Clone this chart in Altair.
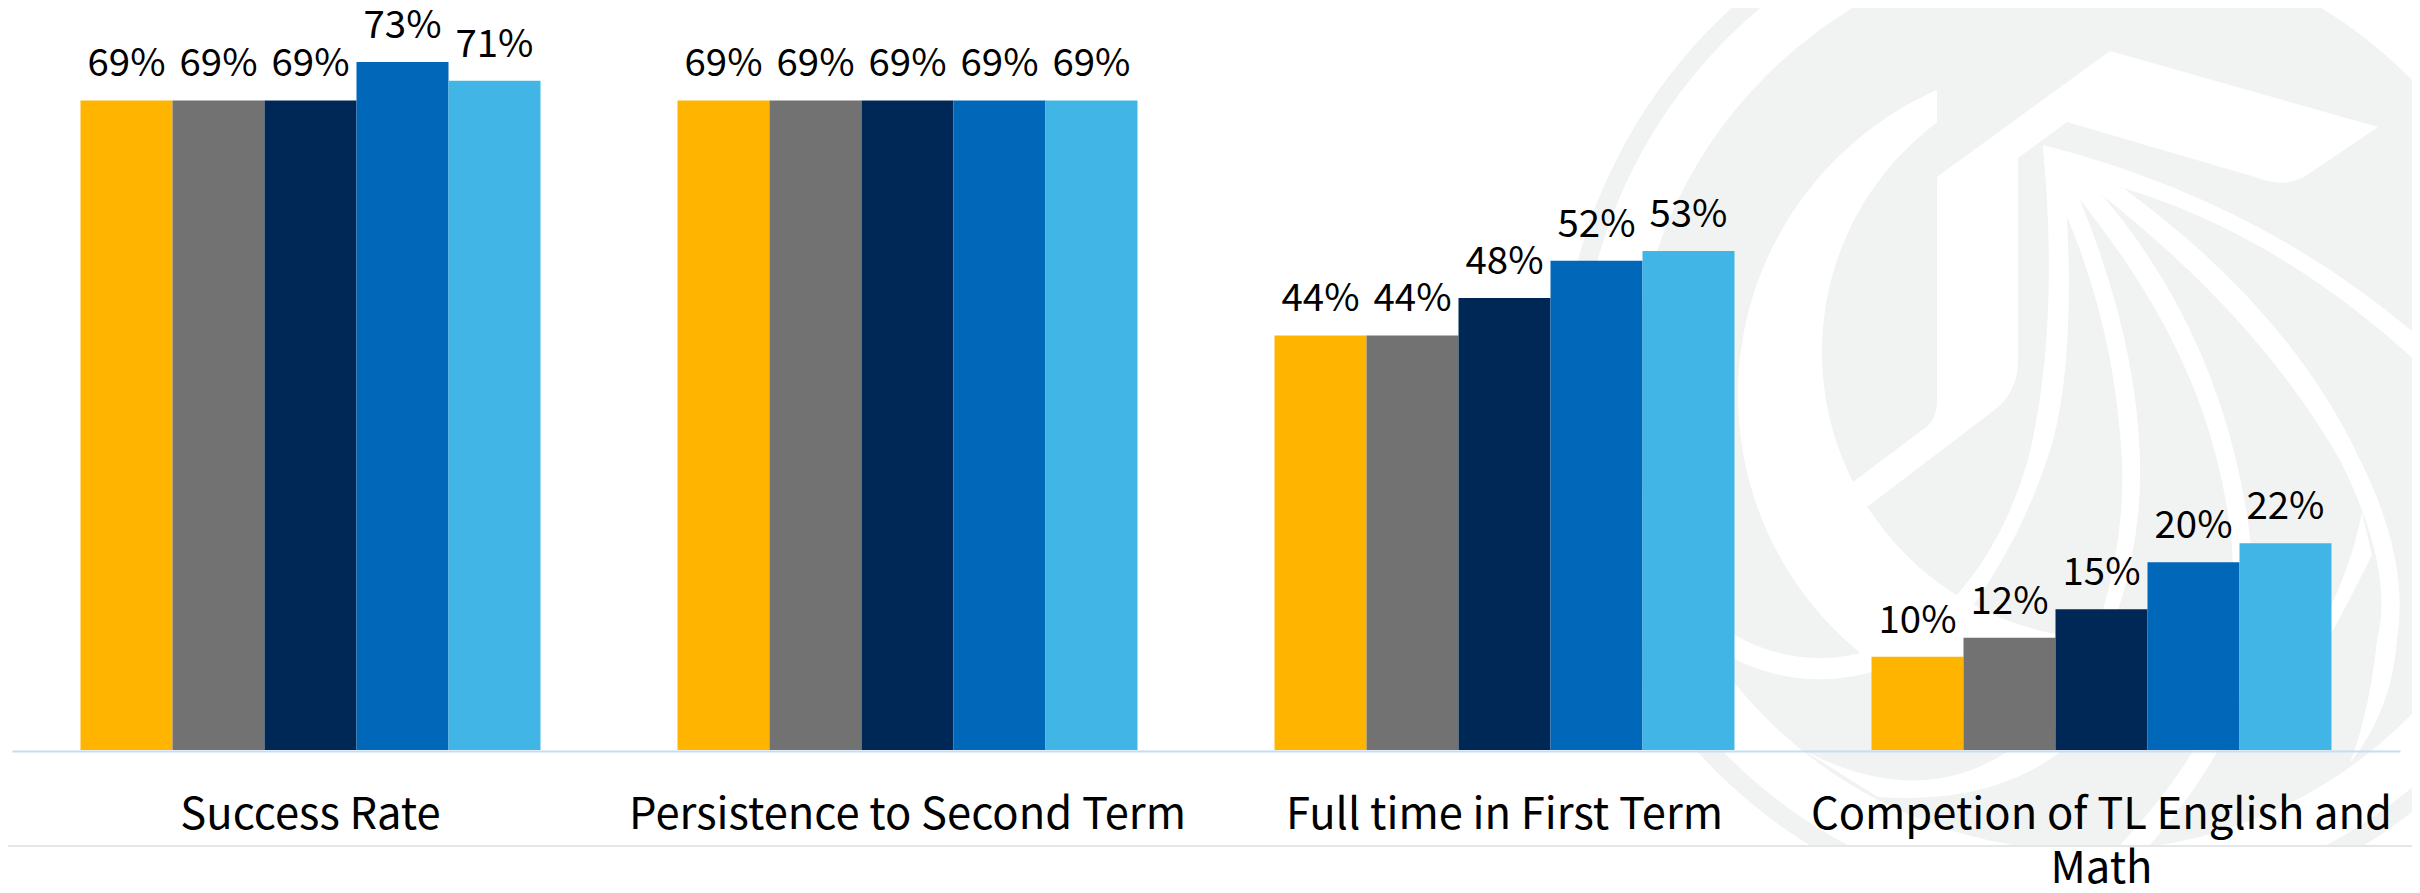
import altair as alt
import pandas as pd

categories = ["Success Rate", "Persistence to Second Term", "Full time in First Term", "Competion of TL English and Math"]
series = ["S1", "S2", "S3", "S4", "S5"]
colors = ["#FFB500", "#727272", "#002857", "#0067B9", "#41B6E6"]
values = {
    "Success Rate": [69.1, 69.1, 69.1, 73.2, 71.2],
    "Persistence to Second Term": [69.1, 69.1, 69.1, 69.1, 69.1],
    "Full time in First Term": [44.1, 44.1, 48.1, 52.05, 53.1],
    "Competion of TL English and Math": [9.93, 11.95, 14.97, 19.97, 21.99],
}
labels = {
    "Success Rate": ["69%", "69%", "69%", "73%", "71%"],
    "Persistence to Second Term": ["69%", "69%", "69%", "69%", "69%"],
    "Full time in First Term": ["44%", "44%", "48%", "52%", "53%"],
    "Competion of TL English and Math": ["10%", "12%", "15%", "20%", "22%"],
}

FONT = "Noto Sans CJK SC"
GREY = "#f1f3f2"
WHITE = "#ffffff"

rows = []
for c in categories:
    for s, v, l in zip(series, values[c], labels[c]):
        rows.append({"category": c, "series": s, "value": v, "label": l})
df = pd.DataFrame(rows)

one = alt.Data(values=[{"k": 0}])


def circle(cx, cy, r):
    return f"M{cx-r},{cy}A{r},{r} 0 1,1 {cx+r},{cy}A{r},{r} 0 1,1 {cx-r},{cy}Z"


def deco(path, fill=None, stroke=None, width=0):
    kw = dict(shape=path, size=4, opacity=1)
    if fill:
        kw.update(filled=True, fill=fill, strokeWidth=0)
    else:
        kw.update(filled=False, stroke=stroke, strokeWidth=width)
    return alt.Chart(one).mark_point(**kw).encode(x=alt.value(-12), y=alt.value(-8))


# Faint logo watermark behind the bars (page coordinates)
watermark = [
    deco(circle(2087, 397, 527), fill=GREY),
    deco(circle(2071, 395, 333), fill=WHITE),
    deco(circle(2109, 352, 287), fill=GREY),
    deco("M1937,0L2420,0L2420,618L2331,618L2109,352L1937,122Z", fill=GREY),
    deco(circle(2087, 397, 481), stroke=WHITE, width=54),
    # cap
    deco("M1937,177L2110,51L2378,127L2310,173Q2287,190 2255,177L2067,122L2018,158L2018,360"
         "Q2018,390 1997,408L1867,507L1853,482L1925,428Q1937,420 1937,400Z", fill=WHITE),
    # fan of petals
    deco("M2043,145L2123,188L2102,195L2080,200L2067,217L2050,230Z", fill=WHITE),
    deco("M2043,145Q2060,330 2028,460Q2005,540 1957,595L1970,610Q2020,540 2047,460Q2075,380 2067,217Z", fill=WHITE),
    deco("M2067,217Q2115,330 2122,460Q2125,540 2100,620L2115,620Q2142,540 2140,460Q2137,340 2080,200Z", fill=WHITE),
    deco("M2080,200Q2185,330 2217,460Q2245,570 2225,660Q2222,735 2120,845L2150,845Q2240,740 2245,670Q2265,580 2236,460Q2200,310 2102,195Z", fill=WHITE),
    deco("M2102,195Q2260,320 2340,460Q2395,570 2377,640Q2370,710 2350,763Q2392,710 2397,640Q2410,560 2360,460Q2290,310 2123,188Z", fill=WHITE),
    deco("M2043,145Q2260,200 2420,338L2420,365Q2280,235 2123,188Z", fill=WHITE),
    deco("M2362,513L2372,555Q2350,600 2325,645L2325,618Q2350,570 2362,513Z", fill=WHITE),
    deco("M1660,570A179,179 0 0,0 1920,638", stroke=WHITE, width=21),
    deco("M1803,750Q1917,810 2007,752L2060,752Q1990,805 1878,797Z", fill=WHITE),
    # cut-off and page rule
    deco("M0,846H2420V900H0Z", fill=WHITE),
    deco("M0,846H2420", stroke="#e6e6e6", width=2),
]

x_enc = alt.X(
    "category:N",
    sort=categories,
    title=None,
    scale=alt.Scale(paddingInner=0.2295, paddingOuter=0.11475),
    axis=alt.Axis(
        labelAngle=0,
        labelFont=FONT,
        labelFontSize=43.5,
        labelColor="#000000",
        labelLimit=1000,
        labelPadding=77,
        labelLineHeight=54,
        labelBaseline="alphabetic",
        labelOverlap=False,
        labelExpr="datum.value == 'Competion of TL English and Math' ? ['Competion of TL English and', 'Math'] : datum.label",
        ticks=False,
        grid=False,
        domainColor="#c6dbf7",
        domainWidth=2,
        offset=1,
        zindex=1,
    ),
)
y_enc = alt.Y("value:Q", axis=None, scale=alt.Scale(domain=[0, 78.94], nice=False))
off = alt.XOffset("series:N", sort=series, scale=alt.Scale(paddingInner=0, paddingOuter=0))

bars = alt.Chart(df).mark_bar().encode(
    x=x_enc,
    xOffset=off,
    y=y_enc,
    color=alt.Color("series:N", sort=series, scale=alt.Scale(domain=series, range=colors), legend=None),
)
text = alt.Chart(df).mark_text(
    font=FONT, fontSize=38.4, color="#000000", baseline="alphabetic", dy=-24
).encode(x=x_enc, xOffset=off, y=y_enc, text="label:N")

chart = alt.layer(*watermark, bars, text).properties(
    width=2388,
    height=742,
    padding={"left": 4, "top": 0, "right": 12, "bottom": 135},
    autosize=alt.AutoSizeParams(type="none"),
    background="#ffffff",
).configure_view(stroke=None)

chart.save("out.html", embed_options={"renderer": "svg", "actions": False})
